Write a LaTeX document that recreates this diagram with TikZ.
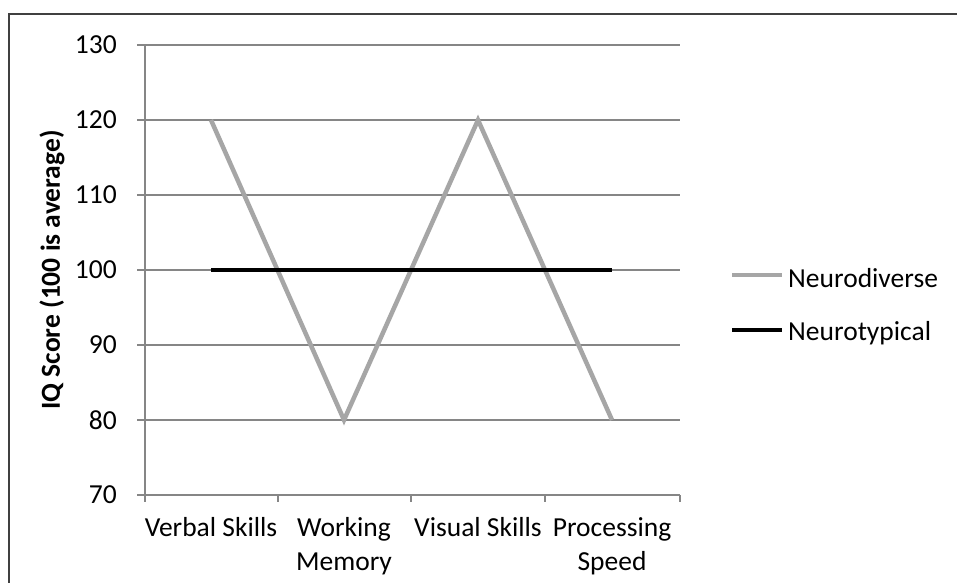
\documentclass[tikz,border=0pt]{standalone}
\usepackage{fontspec}
\setmainfont{Carlito}
\definecolor{gridc}{RGB}{134,134,134}
\definecolor{ndc}{RGB}{166,166,166}
\definecolor{framec}{RGB}{64,64,64}
\begin{document}
\begin{tikzpicture}[x=1pt,y=-1pt,
  gridline/.style={draw=gridc,line width=1.1pt},
  ticklbl/.style={anchor=east,inner sep=0pt,font=\fontsize{27.5}{34}\selectfont},
  catlbl/.style={anchor=north,inner sep=0pt,align=center,font=\fontsize{27.5}{34}\selectfont},
  leglbl/.style={anchor=base west,inner sep=0pt,font=\fontsize{27.5}{34}\selectfont},
  ndline/.style={draw=ndc,line width=4.5pt},
  ntline/.style={draw=black,line width=4.5pt},
]
\useasboundingbox (0,0) rectangle (957,583);
\fill[white] (0,0) rectangle (957,583);
% frame (only top and left visible)
\draw[framec,line width=1.6pt] (957,14) -- (9,14) -- (9,583);

% horizontal gridlines and y ticks
\foreach \v/\y in {130/45,120/120,110/195,100/270,90/345,80/420,70/495}{
  \draw[gridline] (137,\y) -- (680,\y);
  \node[ticklbl] (t\v) at (117,\y) {\v};
}
% y axis
\draw[gridline] (145,45) -- (145,495);
% x ticks
\foreach \x in {145,278,411,545,680}{
  \draw[gridline] (\x,495) -- (\x,502);
}

% category labels
\node[catlbl] (c1) at (211,517) {Verbal Skills};
\node[catlbl] (c2) at (344,517) {Working\\Memory};
\node[catlbl] (c3) at (478,517) {Visual Skills};
\node[catlbl] (c4) at (612,517) {Processing\\Speed};

% axis title
\node[rotate=90,inner sep=0pt,font=\fontsize{27.5}{34}\selectfont\bfseries] (ytitle) at (52,270) {IQ Score (100 is average)};

% data
\coordinate (nd1) at (211,120);
\coordinate (nd2) at (344,420);
\coordinate (nd3) at (478,120);
\coordinate (nd4) at (612,420);
\coordinate (nt1) at (211,270);
\coordinate (nt4) at (612,270);
\draw[ndline,line join=miter] (nd1) -- (nd2) -- (nd3) -- (nd4);
\draw[ntline] (nt1) -- (nt4);

% legend
\coordinate (l1a) at (732,275);
\coordinate (l1b) at (782,275);
\coordinate (l2a) at (732,330);
\coordinate (l2b) at (782,330);
\draw[ndline] (l1a) -- (l1b);
\draw[ntline] (l2a) -- (l2b);
\node[leglbl] (lg1) at (788,287) {Neurodiverse};
\node[leglbl] (lg2) at (788,340) {Neurotypical};
\end{tikzpicture}
\end{document}
